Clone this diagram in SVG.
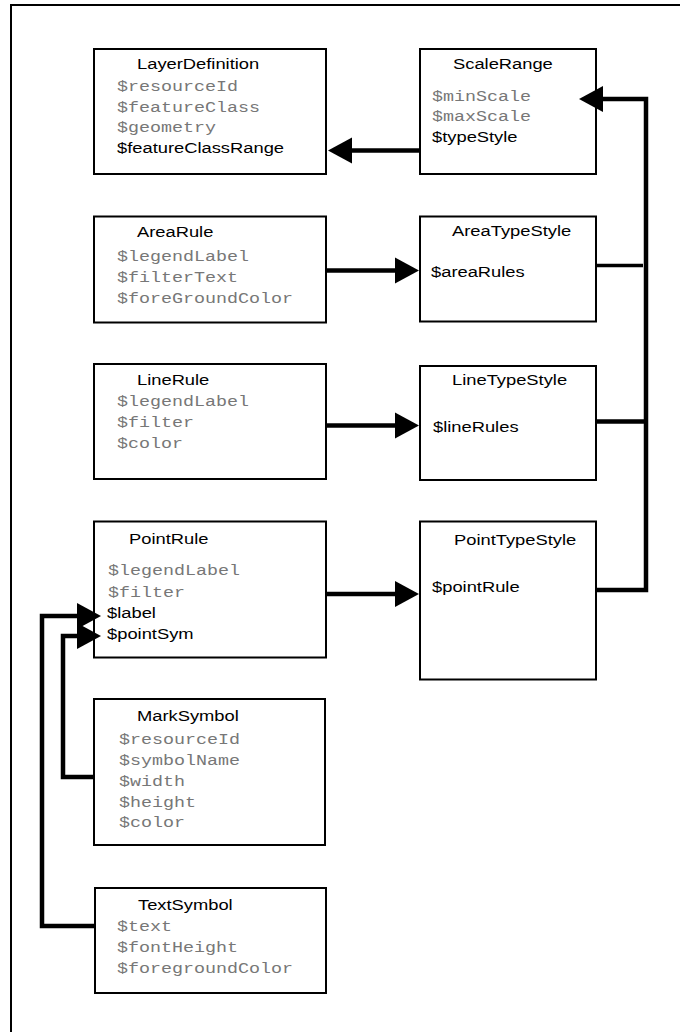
<svg xmlns="http://www.w3.org/2000/svg" width="680" height="1032" viewBox="0 0 680 1032">
<style>
.box{fill:#fff;stroke:#000;stroke-width:2}
.t{font-family:"Liberation Sans",Arial,sans-serif;font-size:14px;fill:#000}
.m{font-family:"Liberation Mono","Courier New",monospace;font-size:14px;fill:#777}
.c{fill:none;stroke:#000;stroke-width:4.5}
.frame{fill:none;stroke:#000;stroke-width:2}
</style>
<defs>
<marker id="ah" markerUnits="userSpaceOnUse" markerWidth="25" markerHeight="28" refX="0" refY="13" orient="auto" overflow="visible">
<path d="M0,0 L24,13 L0,26 Z" fill="#000"/>
</marker>
</defs>
<rect width="680" height="1032" fill="#fff"/>
<path class="frame" d="M11,1032 V5 H680"/>
<g id="LayerDefinition">
<rect class="box" x="94" y="49" width="232" height="125"/>
<text class="t" transform="matrix(1.31 0 0 1 137 69)">LayerDefinition</text>
<text class="m" transform="matrix(1.31 0 0 1 117 90.5)">$resourceId</text>
<text class="m" transform="matrix(1.31 0 0 1 117 111.5)">$featureClass</text>
<text class="m" transform="matrix(1.31 0 0 1 117 132)">$geometry</text>
<text class="t" transform="matrix(1.31 0 0 1 117 153)">$featureClassRange</text>
</g>
<g id="ScaleRange">
<rect class="box" x="420" y="49" width="176" height="125"/>
<text class="t" transform="matrix(1.31 0 0 1 453 69)">ScaleRange</text>
<text class="m" transform="matrix(1.31 0 0 1 432 101)">$minScale</text>
<text class="m" transform="matrix(1.31 0 0 1 432 121)">$maxScale</text>
<text class="t" transform="matrix(1.31 0 0 1 432 141.5)">$typeStyle</text>
</g>
<g id="AreaRule">
<rect class="box" x="94" y="216.5" width="232" height="106"/>
<text class="t" transform="matrix(1.31 0 0 1 137 237)">AreaRule</text>
<text class="m" transform="matrix(1.31 0 0 1 117 261)">$legendLabel</text>
<text class="m" transform="matrix(1.31 0 0 1 117 281.5)">$filterText</text>
<text class="m" transform="matrix(1.31 0 0 1 117 302.5)">$foreGroundColor</text>
</g>
<g id="AreaTypeStyle">
<rect class="box" x="420" y="216.5" width="176" height="105"/>
<text class="t" transform="matrix(1.31 0 0 1 452 236)">AreaTypeStyle</text>
<text class="t" transform="matrix(1.31 0 0 1 431 277)">$areaRules</text>
</g>
<g id="LineRule">
<rect class="box" x="94" y="364" width="232" height="115"/>
<text class="t" transform="matrix(1.31 0 0 1 137 385)">LineRule</text>
<text class="m" transform="matrix(1.31 0 0 1 117 406)">$legendLabel</text>
<text class="m" transform="matrix(1.31 0 0 1 117 426.5)">$filter</text>
<text class="m" transform="matrix(1.31 0 0 1 117 447.5)">$color</text>
</g>
<g id="LineTypeStyle">
<rect class="box" x="420" y="366" width="176" height="114"/>
<text class="t" transform="matrix(1.31 0 0 1 452 385)">LineTypeStyle</text>
<text class="t" transform="matrix(1.31 0 0 1 433 432)">$lineRules</text>
</g>
<g id="PointRule">
<rect class="box" x="94" y="521.5" width="232" height="136"/>
<text class="t" transform="matrix(1.31 0 0 1 129 544)">PointRule</text>
<text class="m" transform="matrix(1.31 0 0 1 108 575)">$legendLabel</text>
<text class="m" transform="matrix(1.31 0 0 1 108 596.5)">$filter</text>
<text class="t" transform="matrix(1.31 0 0 1 107 617.5)">$label</text>
<text class="t" transform="matrix(1.31 0 0 1 107 638.5)">$pointSym</text>
</g>
<g id="PointTypeStyle">
<rect class="box" x="420" y="521.5" width="176" height="158"/>
<text class="t" transform="matrix(1.31 0 0 1 454 545)">PointTypeStyle</text>
<text class="t" transform="matrix(1.31 0 0 1 432 592)">$pointRule</text>
</g>
<g id="MarkSymbol">
<rect class="box" x="94" y="699" width="231" height="146"/>
<text class="t" transform="matrix(1.31 0 0 1 137 720.5)">MarkSymbol</text>
<text class="m" transform="matrix(1.31 0 0 1 119 744)">$resourceId</text>
<text class="m" transform="matrix(1.31 0 0 1 119 765)">$symbolName</text>
<text class="m" transform="matrix(1.31 0 0 1 119 785.5)">$width</text>
<text class="m" transform="matrix(1.31 0 0 1 119 806.5)">$height</text>
<text class="m" transform="matrix(1.31 0 0 1 119 827)">$color</text>
</g>
<g id="TextSymbol">
<rect class="box" x="95" y="888" width="231" height="105"/>
<text class="t" transform="matrix(1.31 0 0 1 138 910)">TextSymbol</text>
<text class="m" transform="matrix(1.31 0 0 1 117 931)">$text</text>
<text class="m" transform="matrix(1.31 0 0 1 117 952)">$fontHeight</text>
<text class="m" transform="matrix(1.31 0 0 1 117 973)">$foregroundColor</text>
</g>
<g id="connectors">
<path class="c" d="M420,150.5 H352" marker-end="url(#ah)"/>
<path class="c" d="M596,590 H646 V99 H603" marker-end="url(#ah)"/>
<path class="c" d="M326,270.5 H395" marker-end="url(#ah)"/>
<path class="c" d="M326,425.5 H395" marker-end="url(#ah)"/>
<path class="c" d="M326,594 H395" marker-end="url(#ah)"/>
<path class="c" d="M94,926 H42 V616 H77" marker-end="url(#ah)"/>
<path class="c" d="M95,777 H63 V636 H77" marker-end="url(#ah)"/>
<path class="c" style="stroke-width:3.5" d="M596,265.5 H643"/>
<path class="c" d="M596,421.5 H646"/>
</g>
</svg>
